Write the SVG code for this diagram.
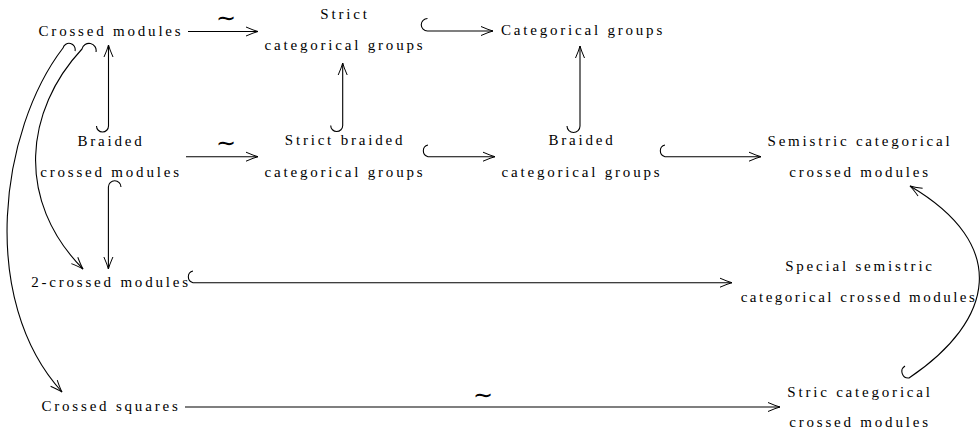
<svg xmlns="http://www.w3.org/2000/svg" width="980" height="435" viewBox="0 0 980 435">
<defs>
<marker id="to" markerUnits="userSpaceOnUse" markerWidth="16" markerHeight="12" viewBox="-13 -6 16 12" refX="0" refY="0" orient="auto" overflow="visible">
<path d="M-12,-4.5 Q-4,-1 0,0 Q-4,1 -12,4.5" fill="none" stroke="#000" stroke-width="1"/>
</marker>
</defs>
<style>
text{font-family:"Liberation Serif","DejaVu Serif",serif;font-size:15px;letter-spacing:2.8px;fill:#000;text-anchor:middle}
.c{fill:none;stroke:#000;stroke-width:1.1}
.a{marker-end:url(#to)}
.t{font-family:"Inter","Open Sans",sans-serif;font-weight:200;font-size:24px;letter-spacing:0}
.n{letter-spacing:2.5px}
</style>
<g id="n-crossed-modules"><text x="111" y="36">Crossed modules</text></g>
<g id="n-strict-cat-groups"><text x="345" y="19">Strict</text><text x="345" y="50">categorical groups</text></g>
<g id="n-cat-groups"><text x="583" y="35">Categorical groups</text></g>
<g id="n-braided-crossed-modules"><text x="111" y="146">Braided</text><text x="111" y="177">crossed modules</text></g>
<g id="n-strict-braided"><text x="345" y="145">Strict braided</text><text x="345" y="177">categorical groups</text></g>
<g id="n-braided-cat"><text x="582" y="145">Braided</text><text x="582" y="177">categorical groups</text></g>
<g id="n-semistric"><text x="860" y="146">Semistric categorical</text><text x="860" y="177">crossed modules</text></g>
<g id="n-2-crossed"><text x="111" y="287">2-crossed modules</text></g>
<g id="n-special"><text x="860" y="271">Special semistric</text><text class="n" x="859" y="302">categorical crossed modules</text></g>
<g id="n-crossed-squares"><text x="111" y="411">Crossed squares</text></g>
<g id="n-stric-cat"><text x="860" y="397">Stric categorical</text><text x="860" y="427">crossed modules</text></g>
<g id="connectors">
<path class="c a" d="M188,31.5 L258,31.5"/>
<text class="t" x="226" y="26">∼</text>
<path class="c a" d="M427.5,18.5 A6.2,6.2 0 0 0 427.5,31 L493,31"/>
<path class="c a" d="M108.5,126 A6,6 0 0 1 96.5,126 M108.5,126 L108.5,45"/>
<path class="c a" d="M342.7,125.5 A6,6 0 0 1 330.7,125.5 M342.7,125.5 L342.7,63"/>
<path class="c a" d="M580,126 A6.5,6.5 0 0 1 567,126 M580,126 L580,46"/>
<path class="c a" d="M186,156.7 L258,156.7"/>
<text class="t" x="226" y="151">∼</text>
<path class="c a" d="M428,145 A6,6 0 0 0 428,156.7 L495,156.7"/>
<path class="c a" d="M665,145 A6,6 0 0 0 665,156.7 L761,156.7"/>
<path class="c a" d="M121,187 A6.3,6.3 0 0 0 108.4,187 L108.4,269"/>
<path class="c a" d="M193,271 A6,6 0 0 0 193,282.7 L732,282.7"/>
<path class="c a" d="M185,407 L780,407"/>
<text class="t" x="483" y="403">∼</text>
<path class="c a" d="M75,51 A6,6 0 0 0 63,48 C0,130 -22,300 62,392"/>
<path class="c a" d="M96,52 A7,7 0 0 0 82,49 C25,110 15,200 83,269"/>
<path class="c a" d="M905,366 A6.5,6.5 0 0 0 909,378 C995,320 1010,245 910,186"/>
</g>
</svg>
